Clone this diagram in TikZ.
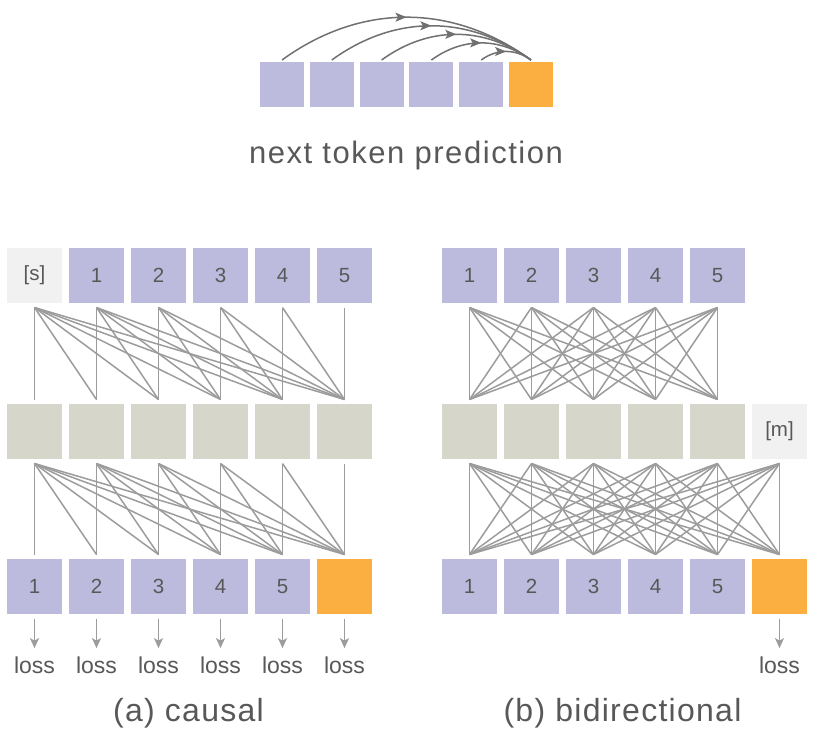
\documentclass[tikz,border=0pt]{standalone}
\usepackage{fontspec}
\setmainfont{Liberation Sans}
\usetikzlibrary{arrows.meta,decorations.markings}
\definecolor{purp}{HTML}{BDBBDD}
\definecolor{orng}{HTML}{FCAF41}
\definecolor{beig}{HTML}{D6D6CA}
\definecolor{lite}{HTML}{F0F1F0}
\definecolor{lnk}{HTML}{9C9C9C}
\definecolor{arcc}{HTML}{707070}
\definecolor{txt}{HTML}{585858}
\begin{document}
\begin{tikzpicture}[x=1pt,y=-1pt,
  box/.style={minimum width=55pt,minimum height=55pt,inner sep=0pt,outer sep=4.5pt,text=txt,font=\fontsize{20.5}{20.5}\selectfont},
  sbox/.style={minimum width=44pt,minimum height=45pt,inner sep=0pt,outer sep=2pt},
  link/.style={draw=lnk,line width=1.5pt},
  larr/.style={draw=lnk,line width=1.5pt,-{Stealth[length=10pt,width=9pt,inset=2.5pt]},shorten >=8pt},
  losst/.style={text=txt,inner sep=0pt,font=\fontsize{23}{23}\selectfont},
  arcst/.style={draw=arcc,line width=1.5pt,postaction={decorate},
    decoration={markings,mark=at position 0.5 with {\arrow[arcc]{Stealth[length=11pt,width=9pt,inset=2.5pt]}}}},
  capt/.style={text=txt,inner sep=0pt}
]
\useasboundingbox (0,0) rectangle (814,742);

% top: next token prediction
\foreach \i in {0,...,4}
  \node[sbox,fill=purp] (tb\i) at ({282+49.8*\i},84.5) {};
\node[sbox,fill=orng] (tb5) at (531,84.5) {};
\foreach \i in {0,...,4}
  \draw[arcst] (tb\i.north) to[bend left=36] (tb5.north);
\node[capt,anchor=base,font=\fontsize{31}{31}\selectfont\addfontfeature{LetterSpace=5}] (ntp) at (406,163) {next token prediction};

% (a) causal
\node[box,fill=lite] (ct0) at (34.5,275.5) {[s]};
\foreach \i in {1,...,5}
  \node[box,fill=purp] (ct\i) at ({34.5+62*\i},275.5) {\i};
\foreach \i in {0,...,5}
  \node[box,fill=beig] (cm\i) at ({34.5+62*\i},431.5) {};
\foreach \i [evaluate=\i as \n using int(\i+1)] in {0,...,4}
  \node[box,fill=purp] (cb\i) at ({34.5+62*\i},586.5) {\n};
\node[box,fill=orng] (cb5) at (344.5,586.5) {};
\foreach \i in {0,...,5}{
  \foreach \j in {\i,...,5}{
    \draw[link] (ct\i.south) -- (cm\j.north);
    \draw[link] (cm\i.south) -- (cb\j.north);
  }
  \node[losst,anchor=base] (cl\i) at ({34.5+62*\i},673) {loss};
  \draw[larr] (cb\i.south) -- (cl\i.north);
}
\node[capt,anchor=base,font=\fontsize{32}{32}\selectfont\addfontfeature{LetterSpace=4}] (capa) at (188.5,721) {(a) causal};

% (b) bidirectional
\foreach \i [evaluate=\i as \n using int(\i+1)] in {0,...,4}
  \node[box,fill=purp] (bt\i) at ({469.5+62*\i},275.5) {\n};
\foreach \i in {0,...,4}
  \node[box,fill=beig] (bm\i) at ({469.5+62*\i},431.5) {};
\node[box,fill=lite] (bm5) at (779.5,431.5) {[m]};
\foreach \i [evaluate=\i as \n using int(\i+1)] in {0,...,4}
  \node[box,fill=purp] (bb\i) at ({469.5+62*\i},586.5) {\n};
\node[box,fill=orng] (bb5) at (779.5,586.5) {};
\foreach \i in {0,...,4}
  \foreach \j in {0,...,4}
    \draw[link] (bt\i.south) -- (bm\j.north);
\foreach \i in {0,...,5}
  \foreach \j in {0,...,5}
    \draw[link] (bm\i.south) -- (bb\j.north);
\node[losst,anchor=base] (bl5) at (779.5,673) {loss};
\draw[larr] (bb5.south) -- (bl5.north);
\node[capt,anchor=base,font=\fontsize{32}{32}\selectfont\addfontfeature{LetterSpace=4}] (capb) at (622.5,721) {(b) bidirectional};
\end{tikzpicture}
\end{document}
